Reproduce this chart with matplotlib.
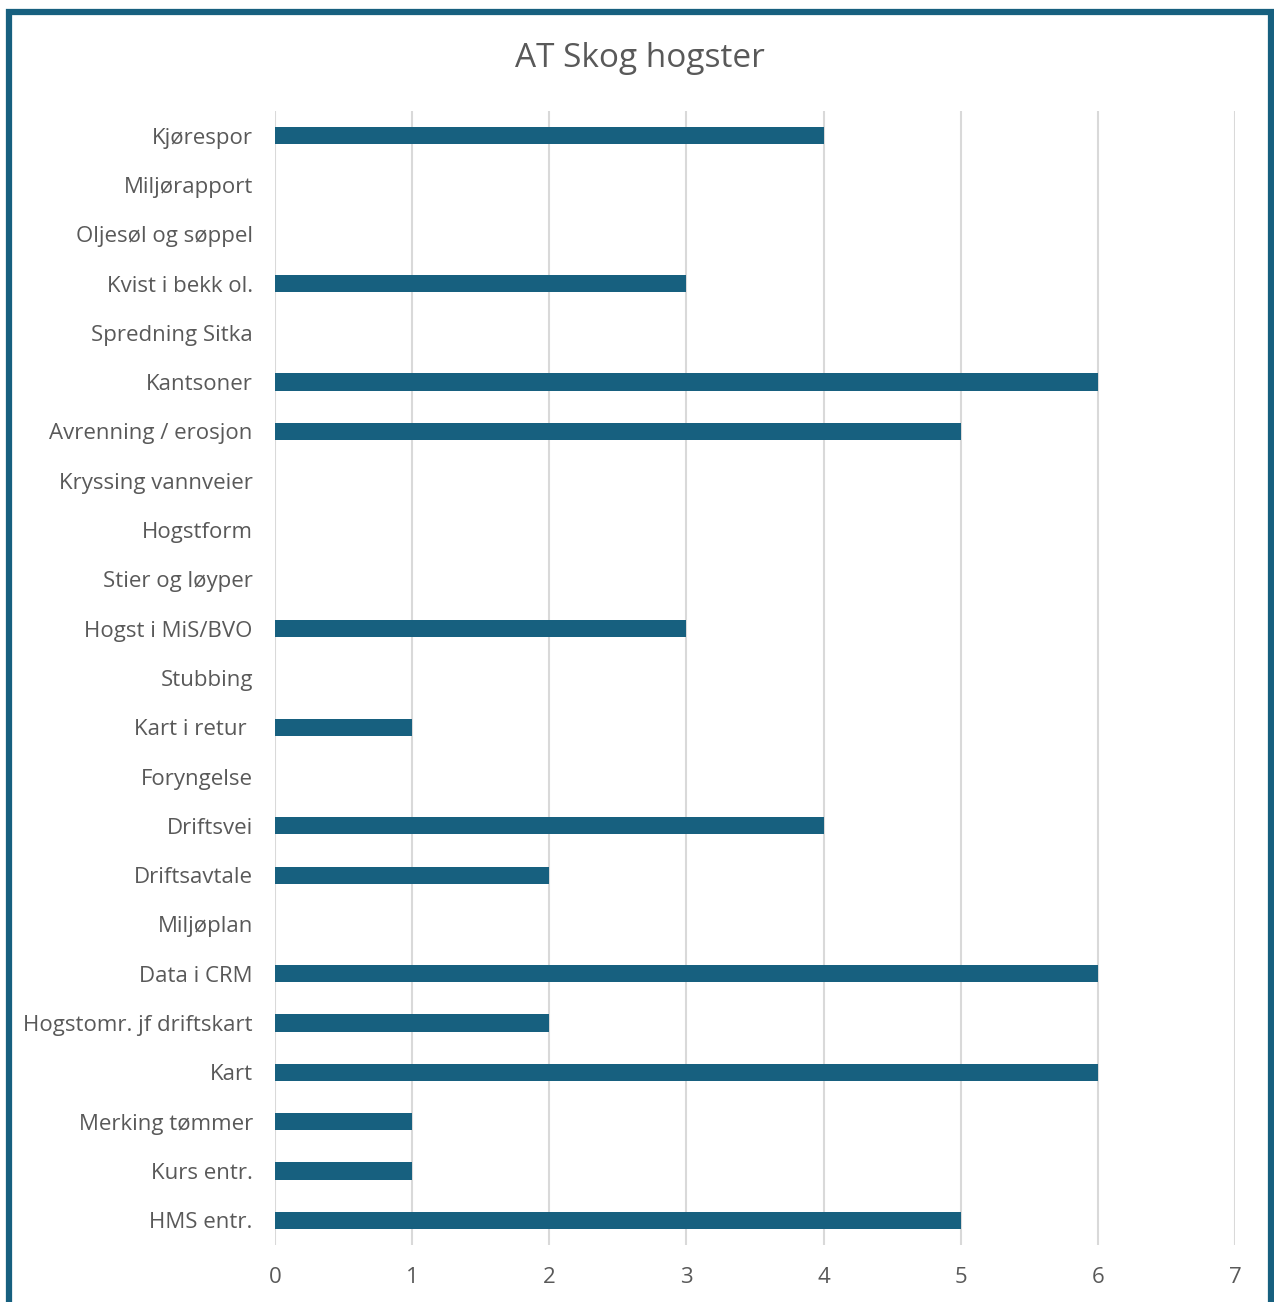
import matplotlib
matplotlib.use("Agg")
import matplotlib.pyplot as plt
from matplotlib.patches import Rectangle

categories = ["Kjørespor", "Miljørapport", "Oljesøl og søppel", "Kvist i bekk ol.",
              "Spredning Sitka", "Kantsoner", "Avrenning / erosjon", "Kryssing vannveier",
              "Hogstform", "Stier og løyper", "Hogst i MiS/BVO", "Stubbing", "Kart i retur ",
              "Foryngelse", "Driftsvei", "Driftsavtale", "Miljøplan", "Data i CRM",
              "Hogstomr. jf driftskart", "Kart", "Merking tømmer", "Kurs entr.", "HMS entr."]
values = [4, 0, 0, 3, 0, 6, 5, 0, 0, 0, 3, 0, 1, 0, 4, 2, 0, 6, 2, 6, 1, 1, 5]
xticks = [0, 1, 2, 3, 4, 5, 6, 7]

plt.rcParams["font.family"] = ["Open Sans", "DejaVu Sans"]
BAR = "#17607F"
TXT = "#595959"
GRID = "#D9D9D9"

fig = plt.figure(figsize=(12.74, 13.02), dpi=100)
ax = fig.add_axes([0.2159, 0.0438, 0.7535, 0.8710])

ypos = list(range(len(categories)))
ax.barh(ypos, values, height=0.35, color=BAR, zorder=3)
ax.set_ylim(len(categories) - 0.5, -0.5)
ax.set_xlim(0, 7)
ax.set_yticks(ypos)
ax.set_yticklabels(categories, fontsize=16, color=TXT)
ax.set_xticks(xticks)
ax.set_xticklabels([str(t) for t in xticks], fontsize=16, color=TXT)
ax.tick_params(axis="both", length=0)
ax.tick_params(axis="y", pad=16)
ax.tick_params(axis="x", pad=16)
ax.grid(axis="x", color=GRID, lw=1.5, zorder=0)
for s in ax.spines.values():
    s.set_visible(False)

fig.text(0.502, 0.955, "AT Skog hogster", ha="center", va="center", fontsize=24, color=TXT)

# dark blue frame around the chart (bottom runs off the image)
fig.add_artist(Rectangle((9 / 1274, -0.05), (1271 - 9) / 1274, 1 + 0.05 - 12 / 1302,
                         transform=fig.transFigure, fill=False, ec=BAR, lw=4.5, zorder=10))

fig.savefig("out.png", dpi=100)
